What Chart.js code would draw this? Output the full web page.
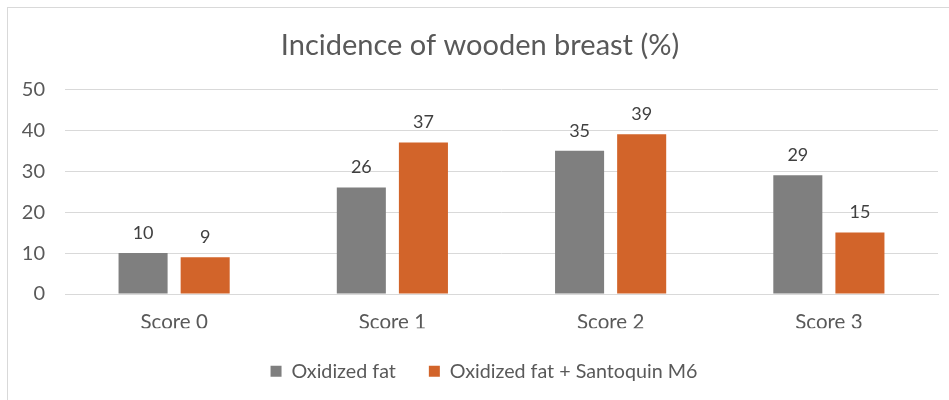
<!DOCTYPE html>
<html>
<head>
<meta charset="utf-8">
<script src="https://cdn.jsdelivr.net/npm/chart.js@4.4.0/dist/chart.umd.min.js"></script>
<style>
  html, body { margin: 0; padding: 0; background: #ffffff; }
  #wrap { position: relative; width: 949px; height: 400px; overflow: hidden; }
  #frame { position: absolute; left: 7px; top: 7px; width: 960px; height: 420px;
           border-top: 1px solid #d9d9d9; border-left: 1px solid #d9d9d9; box-sizing: border-box; }
  canvas { position: absolute; left: 0; top: 0; }
</style>
</head>
<body>
<div id="wrap">
  <div id="frame"></div>
  <canvas id="c" width="949" height="400"></canvas>
</div>
<script>
const categories = ["Score 0", "Score 1", "Score 2", "Score 3"];
const oxidizedFat = [10, 26, 35, 29];
const oxidizedFatSantoquin = [9, 37, 39, 15];
const seriesNames = ["Oxidized fat", "Oxidized fat + Santoquin M6"];
const yTicks = [0, 10, 20, 30, 40, 50];

const FONT = "Lato, 'Open Sans', sans-serif";
const TEXT = "#595959";

const valueLabels = {
  id: "valueLabels",
  afterDatasetsDraw(chart) {
    const ctx = chart.ctx;
    ctx.save();
    ctx.font = "18px " + FONT;
    ctx.fillStyle = "#404040";
    ctx.textAlign = "center";
    ctx.textBaseline = "middle";
    chart.data.datasets.forEach((ds, i) => {
      chart.getDatasetMeta(i).data.forEach((bar, j) => {
        ctx.fillText(String(ds.data[j]), bar.x, bar.y - 20);
      });
    });
    ctx.restore();
  }
};

// Excel centres title and legend slightly right of the canvas centre
const boxShift = {
  id: "boxShift",
  afterLayout(chart) {
    if (chart.titleBlock) { chart.titleBlock.left += 11; chart.titleBlock.right += 11; }
    if (chart.legend) { chart.legend.left += 15; chart.legend.right += 15; }
  }
};

new Chart(document.getElementById("c"), {
  type: "bar",
  data: {
    labels: categories,
    datasets: [
      { label: seriesNames[0], data: oxidizedFat, backgroundColor: "#7f7f7f",
        categoryPercentage: 0.569, barPercentage: 0.79 },
      { label: seriesNames[1], data: oxidizedFatSantoquin, backgroundColor: "#d2642a",
        categoryPercentage: 0.569, barPercentage: 0.79 }
    ]
  },
  options: {
    responsive: false,
    animation: false,
    devicePixelRatio: 1,
    layout: { padding: { left: 0, right: 11, top: 0, bottom: 9 } },
    plugins: {
      title: {
        display: true,
        text: "Incidence of wooden breast (%)",
        color: TEXT,
        font: { family: FONT, size: 29, weight: "normal" },
        padding: { top: 28, bottom: 26.5 }
      },
      legend: {
        position: "bottom",
        labels: {
          color: TEXT,
          font: { family: FONT, size: 19.7 },
          boxWidth: 11, boxHeight: 11,
          padding: 33
        }
      },
      tooltip: { enabled: false }
    },
    scales: {
      x: {
        grid: { display: false, drawTicks: false },
        border: { display: true, color: "#d9d9d9" },
        ticks: { color: TEXT, font: { family: FONT, size: 20.5 }, padding: 16 },
        afterFit(s) { s.height = 34.3; }
      },
      y: {
        min: 0, max: 50,
        afterBuildTicks(s) { s.ticks = yTicks.map(v => ({ value: v })); },
        grid: { color: "#d9d9d9", drawTicks: false },
        border: { display: false },
        ticks: { color: TEXT, font: { family: FONT, size: 20 }, padding: 20 },
        afterFit(s) { s.width = 65; }
      }
    }
  },
  plugins: [valueLabels, boxShift]
});
</script>
</body>
</html>
